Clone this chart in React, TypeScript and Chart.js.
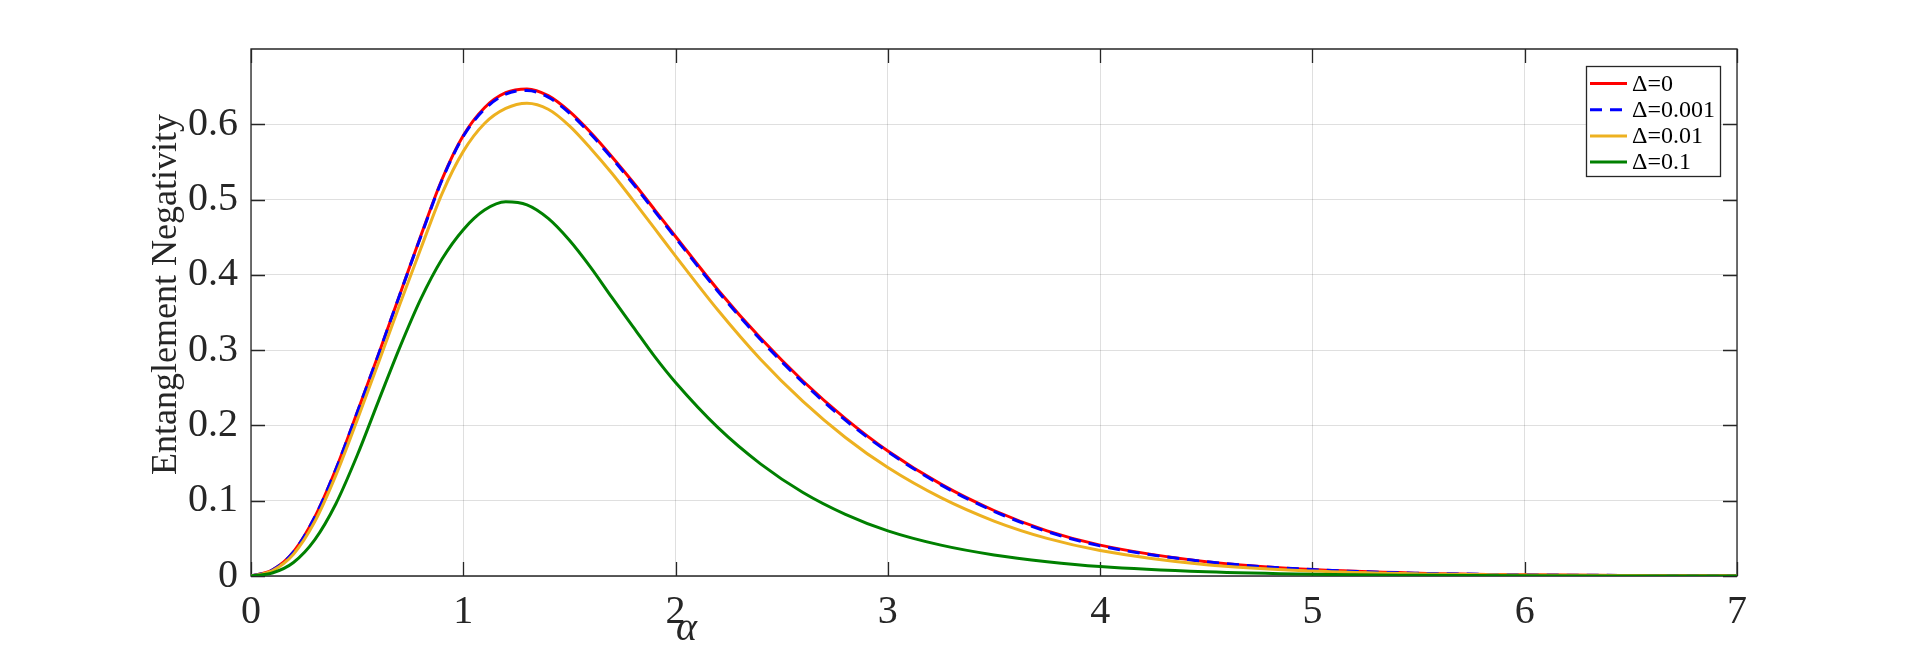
import React, { useEffect, useRef } from "react";
import { Chart, registerables } from "chart.js";

Chart.register(...registerables);

// alpha grid (x values)
const alphaValues = [
  0, 0.1, 0.2, 0.3, 0.4, 0.5, 0.6, 0.7, 0.8, 0.9, 1.0, 1.1, 1.2, 1.3, 1.4, 1.5,
  1.6, 1.7, 1.8, 1.9, 2.0, 2.2, 2.4, 2.6, 2.8, 3.0, 3.25, 3.5, 3.75, 4.0, 4.5,
  5.0, 5.5, 6.0, 6.5, 7.0,
];

// Entanglement negativity for each Δ
const negDelta0 = [
  0, 0.008, 0.032, 0.078, 0.142, 0.217, 0.294, 0.373, 0.452, 0.527, 0.585, 0.622,
  0.642, 0.647, 0.638, 0.617, 0.589, 0.557, 0.523, 0.487, 0.451, 0.38, 0.316,
  0.259, 0.209, 0.166, 0.122, 0.087, 0.06, 0.041, 0.019, 0.0085, 0.0037, 0.0016,
  0.0007, 0.0003,
];
const negDelta0001 = [
  0, 0.008, 0.032, 0.078, 0.142, 0.217, 0.294, 0.373, 0.451, 0.526, 0.584, 0.62,
  0.64, 0.645, 0.636, 0.615, 0.587, 0.555, 0.521, 0.485, 0.449, 0.378, 0.314,
  0.257, 0.207, 0.165, 0.121, 0.086, 0.059, 0.04, 0.019, 0.0085, 0.0037, 0.0016,
  0.0007, 0.0003,
];
const negDelta001 = [
  0, 0.007, 0.029, 0.072, 0.134, 0.207, 0.283, 0.36, 0.435, 0.508, 0.564, 0.601,
  0.621, 0.628, 0.62, 0.598, 0.568, 0.535, 0.499, 0.462, 0.425, 0.353, 0.288,
  0.232, 0.184, 0.144, 0.104, 0.073, 0.05, 0.034, 0.015, 0.0066, 0.0028, 0.0012,
  0.0005, 0.0002,
];
const negDelta01 = [
  0, 0.004, 0.018, 0.048, 0.096, 0.16, 0.232, 0.303, 0.368, 0.421, 0.46, 0.486,
  0.497, 0.493, 0.475, 0.446, 0.41, 0.37, 0.331, 0.292, 0.257, 0.197, 0.149,
  0.111, 0.082, 0.06, 0.041, 0.028, 0.019, 0.0125, 0.0055, 0.0022, 0.0009,
  0.0003, 0.0001, 0,
];

const seriesLabels = ["Δ=0", "Δ=0.001", "Δ=0.01", "Δ=0.1"];
const seriesColors = ["#ff0000", "#0000ff", "#edb120", "#008000"];
const seriesDashes: number[][] = [[], [12, 8], [], []];

const xTickValues = [0, 1, 2, 3, 4, 5, 6, 7];
const yTickValues = [0, 0.1, 0.2, 0.3, 0.4, 0.5, 0.6];

const AXIS_COLOR = "#262626";
const SERIF = "'Liberation Serif', 'Times New Roman', serif";

const framePlugin = {
  id: "matlabFrame",
  beforeDatasetsDraw(chart: any) {
    const { ctx, chartArea } = chart;
    const { left, right, top, bottom } = chartArea;
    const xs = chart.scales.x;
    const ys = chart.scales.y;
    ctx.save();
    ctx.strokeStyle = AXIS_COLOR;
    ctx.lineWidth = 1.3;
    ctx.beginPath();
    ctx.rect(left, top, right - left, bottom - top);
    ctx.stroke();
    const tl = 14;
    ctx.beginPath();
    for (const v of xTickValues) {
      const px = Math.round(xs.getPixelForValue(v)) + 0.5;
      ctx.moveTo(px, bottom);
      ctx.lineTo(px, bottom - tl);
      ctx.moveTo(px, top);
      ctx.lineTo(px, top + tl);
    }
    for (const v of yTickValues) {
      const py = Math.round(ys.getPixelForValue(v)) + 0.5;
      ctx.moveTo(left, py);
      ctx.lineTo(left + tl, py);
      ctx.moveTo(right, py);
      ctx.lineTo(right - tl, py);
    }
    ctx.stroke();
    ctx.restore();
  },
  afterDraw(chart: any) {
    const { ctx, chartArea } = chart;
    const { left, right, top, bottom } = chartArea;
    ctx.save();
    // y-axis label
    ctx.fillStyle = AXIS_COLOR;
    ctx.font = `36px ${SERIF}`;
    ctx.textAlign = "center";
    ctx.textBaseline = "alphabetic";
    ctx.translate(176, (top + bottom) / 2 - 18);
    ctx.rotate(-Math.PI / 2);
    ctx.fillText("Entanglement Negativity", 0, 0);
    ctx.restore();

    // x-axis label (alpha)
    ctx.save();
    ctx.fillStyle = AXIS_COLOR;
    ctx.font = `italic 40px ${SERIF}`;
    ctx.textAlign = "center";
    ctx.textBaseline = "middle";
    ctx.fillText("α", left + (right - left) * 0.293, bottom + 53);
    ctx.restore();

    // legend
    const lw = 134;
    const lh = 110;
    const lx = right - 17 - lw;
    const ly = top + 17;
    ctx.save();
    ctx.fillStyle = "#ffffff";
    ctx.fillRect(lx, ly, lw, lh);
    ctx.strokeStyle = AXIS_COLOR;
    ctx.lineWidth = 1.3;
    ctx.strokeRect(lx + 0.5, ly + 0.5, lw, lh);
    chart.data.datasets.forEach((ds: any, i: number) => {
      const cy = ly + 17.5 + i * 26.2;
      ctx.strokeStyle = ds.borderColor;
      ctx.lineWidth = 3;
      ctx.setLineDash(ds.borderDash || []);
      ctx.beginPath();
      ctx.moveTo(lx + 4, cy);
      ctx.lineTo(lx + 41, cy);
      ctx.stroke();
      ctx.setLineDash([]);
      ctx.fillStyle = "#000000";
      ctx.font = `24px ${SERIF}`;
      ctx.textAlign = "left";
      ctx.textBaseline = "middle";
      ctx.fillText(ds.label, lx + 46, cy + 1);
    });
    ctx.restore();
  },
};

export default function App() {
  const canvasRef = useRef<HTMLCanvasElement | null>(null);

  useEffect(() => {
    if (!canvasRef.current) return;
    const seriesValues = [negDelta0, negDelta0001, negDelta001, negDelta01];
    const datasets = seriesValues.map((vals, i) => ({
      label: seriesLabels[i],
      data: alphaValues.map((a, j) => ({ x: a, y: vals[j] })),
      borderColor: seriesColors[i],
      backgroundColor: seriesColors[i],
      borderWidth: 3,
      borderDash: seriesDashes[i],
      pointRadius: 0,
      fill: false,
      cubicInterpolationMode: "monotone" as const,
      order: 3 - i,
    }));

    const chart = new Chart(canvasRef.current, {
      type: "line",
      data: { datasets },
      plugins: [framePlugin],
      options: {
        responsive: false,
        animation: false,
        layout: { padding: { left: 0, top: 49, right: 183, bottom: 0 } },
        plugins: {
          legend: { display: false },
          tooltip: { enabled: false },
        },
        scales: {
          x: {
            type: "linear",
            min: 0,
            max: 7,
            afterFit: (scale: any) => {
              scale.height = 72;
            },
            afterBuildTicks: (scale: any) => {
              scale.ticks = xTickValues.map((v) => ({ value: v }));
            },
            ticks: {
              autoSkip: false,
              maxRotation: 0,
              padding: 12,
              color: AXIS_COLOR,
              font: { family: SERIF, size: 40 },
              callback: (v: any) => String(v),
            },
            grid: {
              color: "rgba(38,38,38,0.15)",
              lineWidth: 1,
              drawTicks: false,
            },
            border: { display: false },
          },
          y: {
            type: "linear",
            min: 0,
            max: 0.7,
            afterFit: (scale: any) => {
              scale.width = 251;
            },
            afterBuildTicks: (scale: any) => {
              scale.ticks = yTickValues.map((v) => ({ value: v }));
            },
            ticks: {
              autoSkip: false,
              padding: 13,
              color: AXIS_COLOR,
              font: { family: SERIF, size: 40 },
              callback: (v: any) => String(Math.round(Number(v) * 10) / 10),
            },
            grid: {
              color: "rgba(38,38,38,0.15)",
              lineWidth: 1,
              drawTicks: false,
            },
            border: { display: false },
          },
        },
      },
    });
    return () => chart.destroy();
  }, []);

  return (
    <div
      style={{
        position: "absolute",
        left: 0,
        top: 0,
        width: 1920,
        height: 648,
        background: "#ffffff",
      }}
    >
      <canvas ref={canvasRef} width={1920} height={648} />
    </div>
  );
}
